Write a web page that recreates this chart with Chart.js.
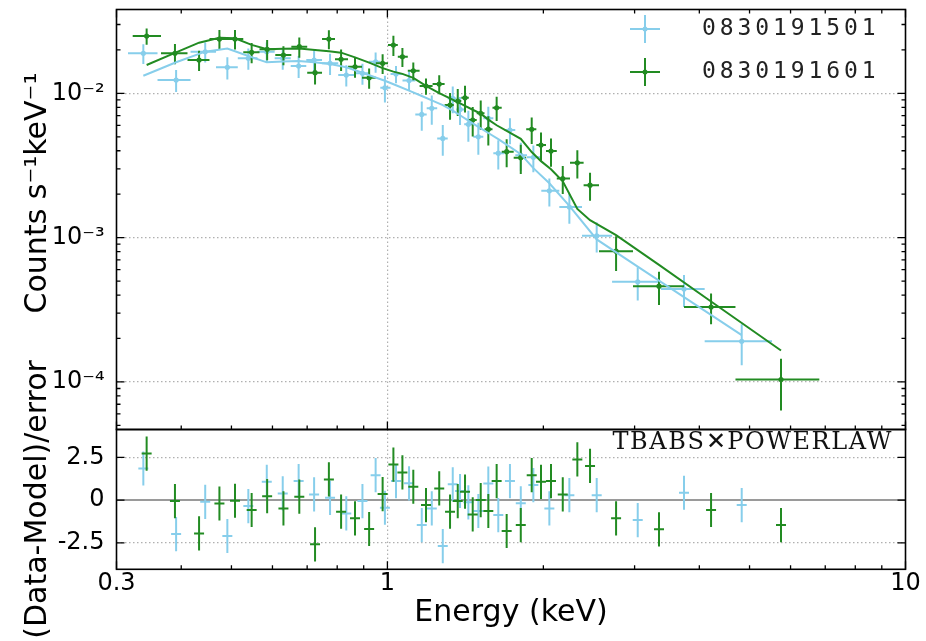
<!DOCTYPE html>
<html>
<head>
<meta charset="utf-8">
<script src="https://cdn.jsdelivr.net/npm/chart.js@4.4.1/dist/chart.umd.min.js"></script>
<style>
html,body{margin:0;padding:0;background:#ffffff;}
canvas{display:block;}
</style>
</head>
<body>
<canvas id="c" width="926" height="641" style="width:926px;height:641px"></canvas>
<script>
// ---------------- data ----------------
const seriesNames = ['0830191501', '0830191601'];
const modelName = 'TBABS\u2715POWERLAW';
const xLabel = 'Energy (keV)';
const yLabelTop = 'Counts s\u207B\u00B9keV\u207B\u00B9';
const yLabelBottom = '(Data-Model)/error';

const xTicks = [0.3, 1, 10];
const xTickLabels = ['0.3', '1', '10'];
const xMinorTicks = [0.4, 0.5, 0.6, 0.7, 0.8, 0.9, 2, 3, 4, 5, 6, 7, 8, 9];
const yTicks = [1e-4, 1e-3, 1e-2];
const yTickLabels = ['10\u207B\u2074', '10\u207B\u00B3', '10\u207B\u00B2'];
const yMinorTicks = [5e-5, 6e-5, 7e-5, 8e-5, 9e-5, 2e-4, 3e-4, 4e-4, 5e-4, 6e-4, 7e-4, 8e-4, 9e-4,
  2e-3, 3e-3, 4e-3, 5e-3, 6e-3, 7e-3, 8e-3, 9e-3, 2e-2, 3e-2];
const rTicks = [-2.5, 0, 2.5];
const rTickLabels = ['-2.5', '0', '2.5'];

// series 0830191501 (light blue)
const blueE = [0.338,0.391,0.445,0.491,0.539,0.585,0.628,0.674,0.722,0.775,0.833,0.895,0.949,0.989,1.039,1.101,1.165,1.218,1.279,1.337,1.381,1.433,1.498,1.566,1.637,1.724,1.809,1.913,2.054,2.245,2.535,3.042,3.737,4.829];
const blueBinEdges = [0.3157,0.3600,0.4169,0.4668,0.5143,0.5613,0.6059,0.6507,0.6973,0.7479,0.8037,0.8632,0.9216,0.9690,1.0140,1.0694,1.1320,1.1908,1.2477,1.3074,1.3583,1.4068,1.4650,1.5315,1.6012,1.6805,1.7654,1.8596,1.9818,2.1469,2.3747,2.7141,3.374,4.096,5.525];
const blueRate = [0.01894,0.01237,0.01943,0.01515,0.01749,0.01943,0.01749,0.01547,0.01702,0.01614,0.01339,0.01376,0.01656,0.01093,0.01361,0.01227,0.00715,0.00787,0.00487,0.00923,0.00774,0.00610,0.00500,0.00671,0.00385,0.00557,0.00373,0.00360,0.00211,0.00163,0.00103,0.000494,0.000440,0.000191];
const blueErr = [0.00299,0.00216,0.00307,0.00265,0.00294,0.00311,0.00294,0.00271,0.00286,0.00271,0.00225,0.00231,0.00265,0.00230,0.00184,0.00187,0.00164,0.00181,0.00117,0.00194,0.00170,0.00149,0.00125,0.00138,0.000886,0.00114,0.000821,0.000756,0.000464,0.000383,0.000242,0.000128,0.000110,0.0000604];
const blueModel = [0.01325,0.01643,0.01946,0.02045,0.01817,0.01641,0.01664,0.01678,0.01644,0.01597,0.01517,0.01390,0.01289,0.01223,0.01138,0.01044,0.00958,0.00894,0.00830,0.00760,0.00705,0.00648,0.00585,0.00531,0.00482,0.00426,0.00379,0.00303,0.00238,0.00166,0.000972,0.000630,0.000387,0.000211];
const blueResid = [1.85,-1.99,-0.1,-2.1,-0.35,1.07,0.39,1.11,0.33,0.13,-0.78,-0.06,1.46,-0.45,1.11,0.98,-1.46,-0.49,-2.69,0.92,0.53,-0.13,-0.64,0.97,-0.88,1.11,-0.19,0.88,-0.49,0.29,0.29,-1.17,0.43,-0.29];

// series 0830191601 (green)
const greenE = [0.343,0.389,0.433,0.474,0.508,0.547,0.586,0.630,0.676,0.725,0.771,0.814,0.866,0.922,0.979,1.027,1.069,1.122,1.187,1.259,1.321,1.367,1.412,1.461,1.514,1.566,1.625,1.699,1.809,1.899,1.979,2.069,2.180,2.326,2.461,2.763,3.344,4.214,5.751];
const greenBinEdges = [0.3224,0.3656,0.4113,0.4535,0.4903,0.5270,0.5664,0.6076,0.6525,0.7002,0.7479,0.7923,0.8395,0.8933,0.9498,1.0026,1.0473,1.0949,1.1538,1.2224,1.2895,1.3431,1.3887,1.4359,1.4871,1.5396,1.5953,1.6620,1.7528,1.8532,1.9385,2.0236,2.1228,2.2513,2.3917,2.5611,2.9787,3.737,4.697,6.818];
const greenRate = [0.02496,0.01894,0.01702,0.02379,0.02379,0.01925,0.02019,0.01843,0.02105,0.01390,0.02379,0.01721,0.01529,0.01283,0.01614,0.02163,0.01794,0.01435,0.01124,0.01160,0.00830,0.00884,0.00932,0.00653,0.00727,0.00565,0.00795,0.00394,0.00358,0.00563,0.00438,0.00398,0.00257,0.00330,0.00231,0.000806,0.000461,0.000330,0.0001039];
const greenErr = [0.00324,0.00303,0.00272,0.00369,0.00369,0.00308,0.00323,0.00276,0.00337,0.00236,0.00357,0.00293,0.00245,0.00205,0.00250,0.00346,0.00269,0.00201,0.00146,0.00174,0.00174,0.00186,0.00196,0.00150,0.00167,0.00130,0.00151,0.000867,0.000823,0.00118,0.000964,0.000876,0.000565,0.000726,0.000508,0.000218,0.000120,0.0000792,0.0000405];
const greenModel = [0.01572,0.01907,0.02246,0.02425,0.02406,0.02169,0.02022,0.02038,0.02048,0.02000,0.01959,0.01915,0.01777,0.01632,0.01497,0.01414,0.01365,0.01281,0.01127,0.01005,0.00923,0.00868,0.00819,0.00770,0.00723,0.00658,0.00601,0.00549,0.00484,0.00392,0.00339,0.00298,0.00246,0.00158,0.00132,0.00104,0.000648,0.000361,0.000165];
const greenResid = [2.72,-0.06,-1.95,-0.2,-0.04,-0.58,0.23,-0.49,0.2,-2.59,1.21,-0.68,-1.07,-1.69,0.35,2.08,1.62,0.78,-0.29,0.68,-0.68,-0.06,0.49,-0.84,0,-0.64,1.11,-1.81,-1.46,1.46,1.07,1.11,0.33,2.38,2.0,-1.07,-1.71,-0.58,-1.46];
const residErr = 1; // (data-model)/error bars are +/-1 by definition

// ---------------- styles ----------------
const BLUE = '#87ceeb';
const GREEN = '#228b22';
const GRID = '#b0b0b0';
const FONT = 'DejaVu Sans';

const toPts = (xs, ys) => xs.map((x, i) => ({x: x, y: ys[i]}));

// error bars, drawn right before each data set's own points
const errorBars = {
  id: 'errorBars',
  beforeDatasetDraw(chart, args) {
    const ds = chart.data.datasets[args.index];
    if (ds.yErr === undefined) return;
    const xs = chart.scales.x, ys = chart.scales[ds.yAxisID];
    const ctx = chart.ctx;
    ctx.save();
    ctx.beginPath();
    ctx.rect(xs.left, ys.top, xs.right - xs.left, ys.bottom - ys.top);
    ctx.clip();
    ctx.strokeStyle = ds.borderColor;
    ctx.lineWidth = 2;
    ctx.beginPath();
    ds.data.forEach((p, i) => {
      const e = Array.isArray(ds.yErr) ? ds.yErr[i] : ds.yErr;
      const px = xs.getPixelForValue(p.x), py = ys.getPixelForValue(p.y);
      if (ds.binEdges) {
        ctx.moveTo(xs.getPixelForValue(ds.binEdges[i]), py);
        ctx.lineTo(xs.getPixelForValue(ds.binEdges[i + 1]), py);
      } else {
        ctx.moveTo(px - ds.dashHalf, py);
        ctx.lineTo(px + ds.dashHalf, py);
      }
      ctx.moveTo(px, ys.getPixelForValue(p.y - e));
      ctx.lineTo(px, ys.getPixelForValue(p.y + e));
    });
    ctx.stroke();
    ctx.restore();
  }
};

// frames, inward ticks, legend, labels
const decorations = {
  id: 'decorations',
  afterDraw(chart) {
    const ctx = chart.ctx;
    const xs = chart.scales.x, yt = chart.scales.y, yb = chart.scales.yr;
    const L = xs.left, R = xs.right;
    const MAJ = 8, MIN = 4;
    ctx.save();
    ctx.strokeStyle = '#000';
    ctx.lineWidth = 1.3;
    ctx.beginPath();
    const vt = (x, y, len) => { ctx.moveTo(x, y); ctx.lineTo(x, y + len); };
    const ht = (x, y, len) => { ctx.moveTo(x, y); ctx.lineTo(x + len, y); };
    xTicks.forEach(v => { const p = xs.getPixelForValue(v); vt(p, yt.top, MAJ); vt(p, yt.bottom, -MAJ); vt(p, yb.bottom, -MAJ); });
    xMinorTicks.forEach(v => { const p = xs.getPixelForValue(v); vt(p, yt.top, MIN); vt(p, yt.bottom, -MIN); vt(p, yb.bottom, -MIN); });
    yTicks.forEach(v => { const p = yt.getPixelForValue(v); ht(L, p, MAJ); ht(R, p, -MAJ); });
    yMinorTicks.forEach(v => { const p = yt.getPixelForValue(v); ht(L, p, MIN); ht(R, p, -MIN); });
    rTicks.forEach(v => { const p = yb.getPixelForValue(v); ht(L, p, MAJ); ht(R, p, -MAJ); });
    ctx.stroke();
    ctx.lineWidth = 1.6;
    ctx.strokeRect(L, yt.top, R - L, yt.bottom - yt.top);
    ctx.strokeRect(L, yb.top, R - L, yb.bottom - yb.top);

    // legend
    const rows = [{c: BLUE, y: 29, name: seriesNames[0]}, {c: GREEN, y: 72, name: seriesNames[1]}];
    rows.forEach(r => {
      ctx.strokeStyle = r.c; ctx.fillStyle = r.c; ctx.lineWidth = 2;
      ctx.beginPath();
      ctx.moveTo(630, r.y); ctx.lineTo(660, r.y);
      ctx.moveTo(645, r.y - 14); ctx.lineTo(645, r.y + 14);
      ctx.stroke();
      ctx.beginPath(); ctx.arc(645, r.y, 2.5, 0, Math.PI * 2); ctx.fill();
      ctx.fillStyle = '#222';
      ctx.font = '23px "DejaVu Sans Mono"';
      ctx.letterSpacing = '3.9px';
      ctx.textAlign = 'left'; ctx.textBaseline = 'middle';
      ctx.fillText(r.name, 702, r.y);
    });
    ctx.letterSpacing = '1.6px';
    ctx.fillStyle = '#111';
    ctx.font = '24px "DejaVu Serif"';
    ctx.textAlign = 'right'; ctx.textBaseline = 'middle';
    ctx.fillText(modelName, 893, 442.5);
    ctx.letterSpacing = '0px';

    // top y-axis title
    ctx.translate(38, 193);
    ctx.rotate(-Math.PI / 2);
    ctx.font = '30px "' + FONT + '"';
    ctx.fillStyle = '#000';
    ctx.textAlign = 'center'; ctx.textBaseline = 'middle';
    ctx.fillText(yLabelTop, 0, 0);
    ctx.restore();
  }
};

const tickFont = {family: FONT, size: 24, lineHeight: 1};

new Chart(document.getElementById('c').getContext('2d'), {
  type: 'scatter',
  data: {
    datasets: [
      {label: 'model ' + seriesNames[0], type: 'line', data: toPts(blueE, blueModel), yAxisID: 'y',
       borderColor: BLUE, borderWidth: 2, pointRadius: 0, fill: false, tension: 0, order: 0},
      {label: 'model ' + seriesNames[1], type: 'line', data: toPts(greenE, greenModel), yAxisID: 'y',
       borderColor: GREEN, borderWidth: 2, pointRadius: 0, fill: false, tension: 0, order: 0},
      {label: seriesNames[0], data: toPts(blueE, blueRate), yAxisID: 'y', borderColor: BLUE, backgroundColor: BLUE,
       pointRadius: 2.6, pointBorderWidth: 0, binEdges: blueBinEdges, yErr: blueErr, order: 4},
      {label: seriesNames[1], data: toPts(greenE, greenRate), yAxisID: 'y', borderColor: GREEN, backgroundColor: GREEN,
       pointRadius: 2.6, pointBorderWidth: 0, binEdges: greenBinEdges, yErr: greenErr, order: 3},
      {label: 'resid ' + seriesNames[0], data: toPts(blueE, blueResid), yAxisID: 'yr', borderColor: BLUE, backgroundColor: BLUE,
       pointRadius: 0, dashHalf: 5, yErr: residErr, order: 2},
      {label: 'resid ' + seriesNames[1], data: toPts(greenE, greenResid), yAxisID: 'yr', borderColor: GREEN, backgroundColor: GREEN,
       pointRadius: 0, dashHalf: 5, yErr: residErr, order: 1}
    ]
  },
  options: {
    responsive: false,
    devicePixelRatio: 1,
    animation: false,
    events: [],
    layout: {padding: {top: 9.5, right: 20.5, bottom: 0, left: 0}},
    plugins: {legend: {display: false}, tooltip: {enabled: false}},
    scales: {
      x: {
        type: 'logarithmic', position: 'bottom', min: 0.3, max: 10,
        afterBuildTicks: s => { s.ticks = xTicks.map(v => ({value: v})); },
        afterFit: s => { s.height = 71.7; s.paddingLeft = 0; s.paddingRight = 0; },
        ticks: {autoSkip: false, maxRotation: 0, minRotation: 0, padding: 2, color: '#000', font: tickFont,
                callback: (v, i) => xTickLabels[i]},
        grid: {drawTicks: false, color: c => (c.tick && c.tick.value === 1) ? GRID : 'rgba(0,0,0,0)', lineWidth: 1.2},
        border: {display: false, dash: [1.5, 2.5]},
        title: {display: true, text: xLabel, color: '#000', font: {family: FONT, size: 30}, padding: {top: 0, bottom: 10}}
      },
      yr: {
        type: 'linear', position: 'left', stack: 'panels', stackWeight: 139.8, weight: 0,
        min: -4.05, max: 4.13,
        afterBuildTicks: s => { s.ticks = rTicks.map(v => ({value: v})); },
        afterFit: s => { s.width = 116.5; s.paddingTop = 0; s.paddingBottom = 0; },
        ticks: {autoSkip: false, padding: 12, color: '#000', font: tickFont, callback: (v, i) => rTickLabels[i]},
        grid: {drawTicks: false,
               color: c => (c.tick && c.tick.value === 0) ? '#9a9a9a' : GRID,
               lineWidth: c => (c.tick && c.tick.value === 0) ? 2 : 1.2},
        border: {display: false, dash: c => (c.tick && c.tick.value === 0) ? [] : [1.5, 2.5]},
        title: {display: true, text: yLabelBottom, color: '#000', font: {family: FONT, size: 30}, padding: {top: 20, bottom: 0}}
      },
      y: {
        type: 'logarithmic', position: 'left', stack: 'panels', stackWeight: 420, weight: 1,
        min: 4.677e-5, max: 0.03813,
        afterBuildTicks: s => { s.ticks = yTicks.map(v => ({value: v})); },
        afterFit: s => { s.width = 116.5; s.paddingTop = 0; s.paddingBottom = 0; },
        ticks: {autoSkip: false, padding: 12, color: '#000', font: tickFont, callback: (v, i) => yTickLabels[i]},
        grid: {drawTicks: false, color: GRID, lineWidth: 1.2},
        border: {display: false, dash: [1.5, 2.5]}
      }
    }
  },
  plugins: [errorBars, decorations]
});
</script>
</body>
</html>
